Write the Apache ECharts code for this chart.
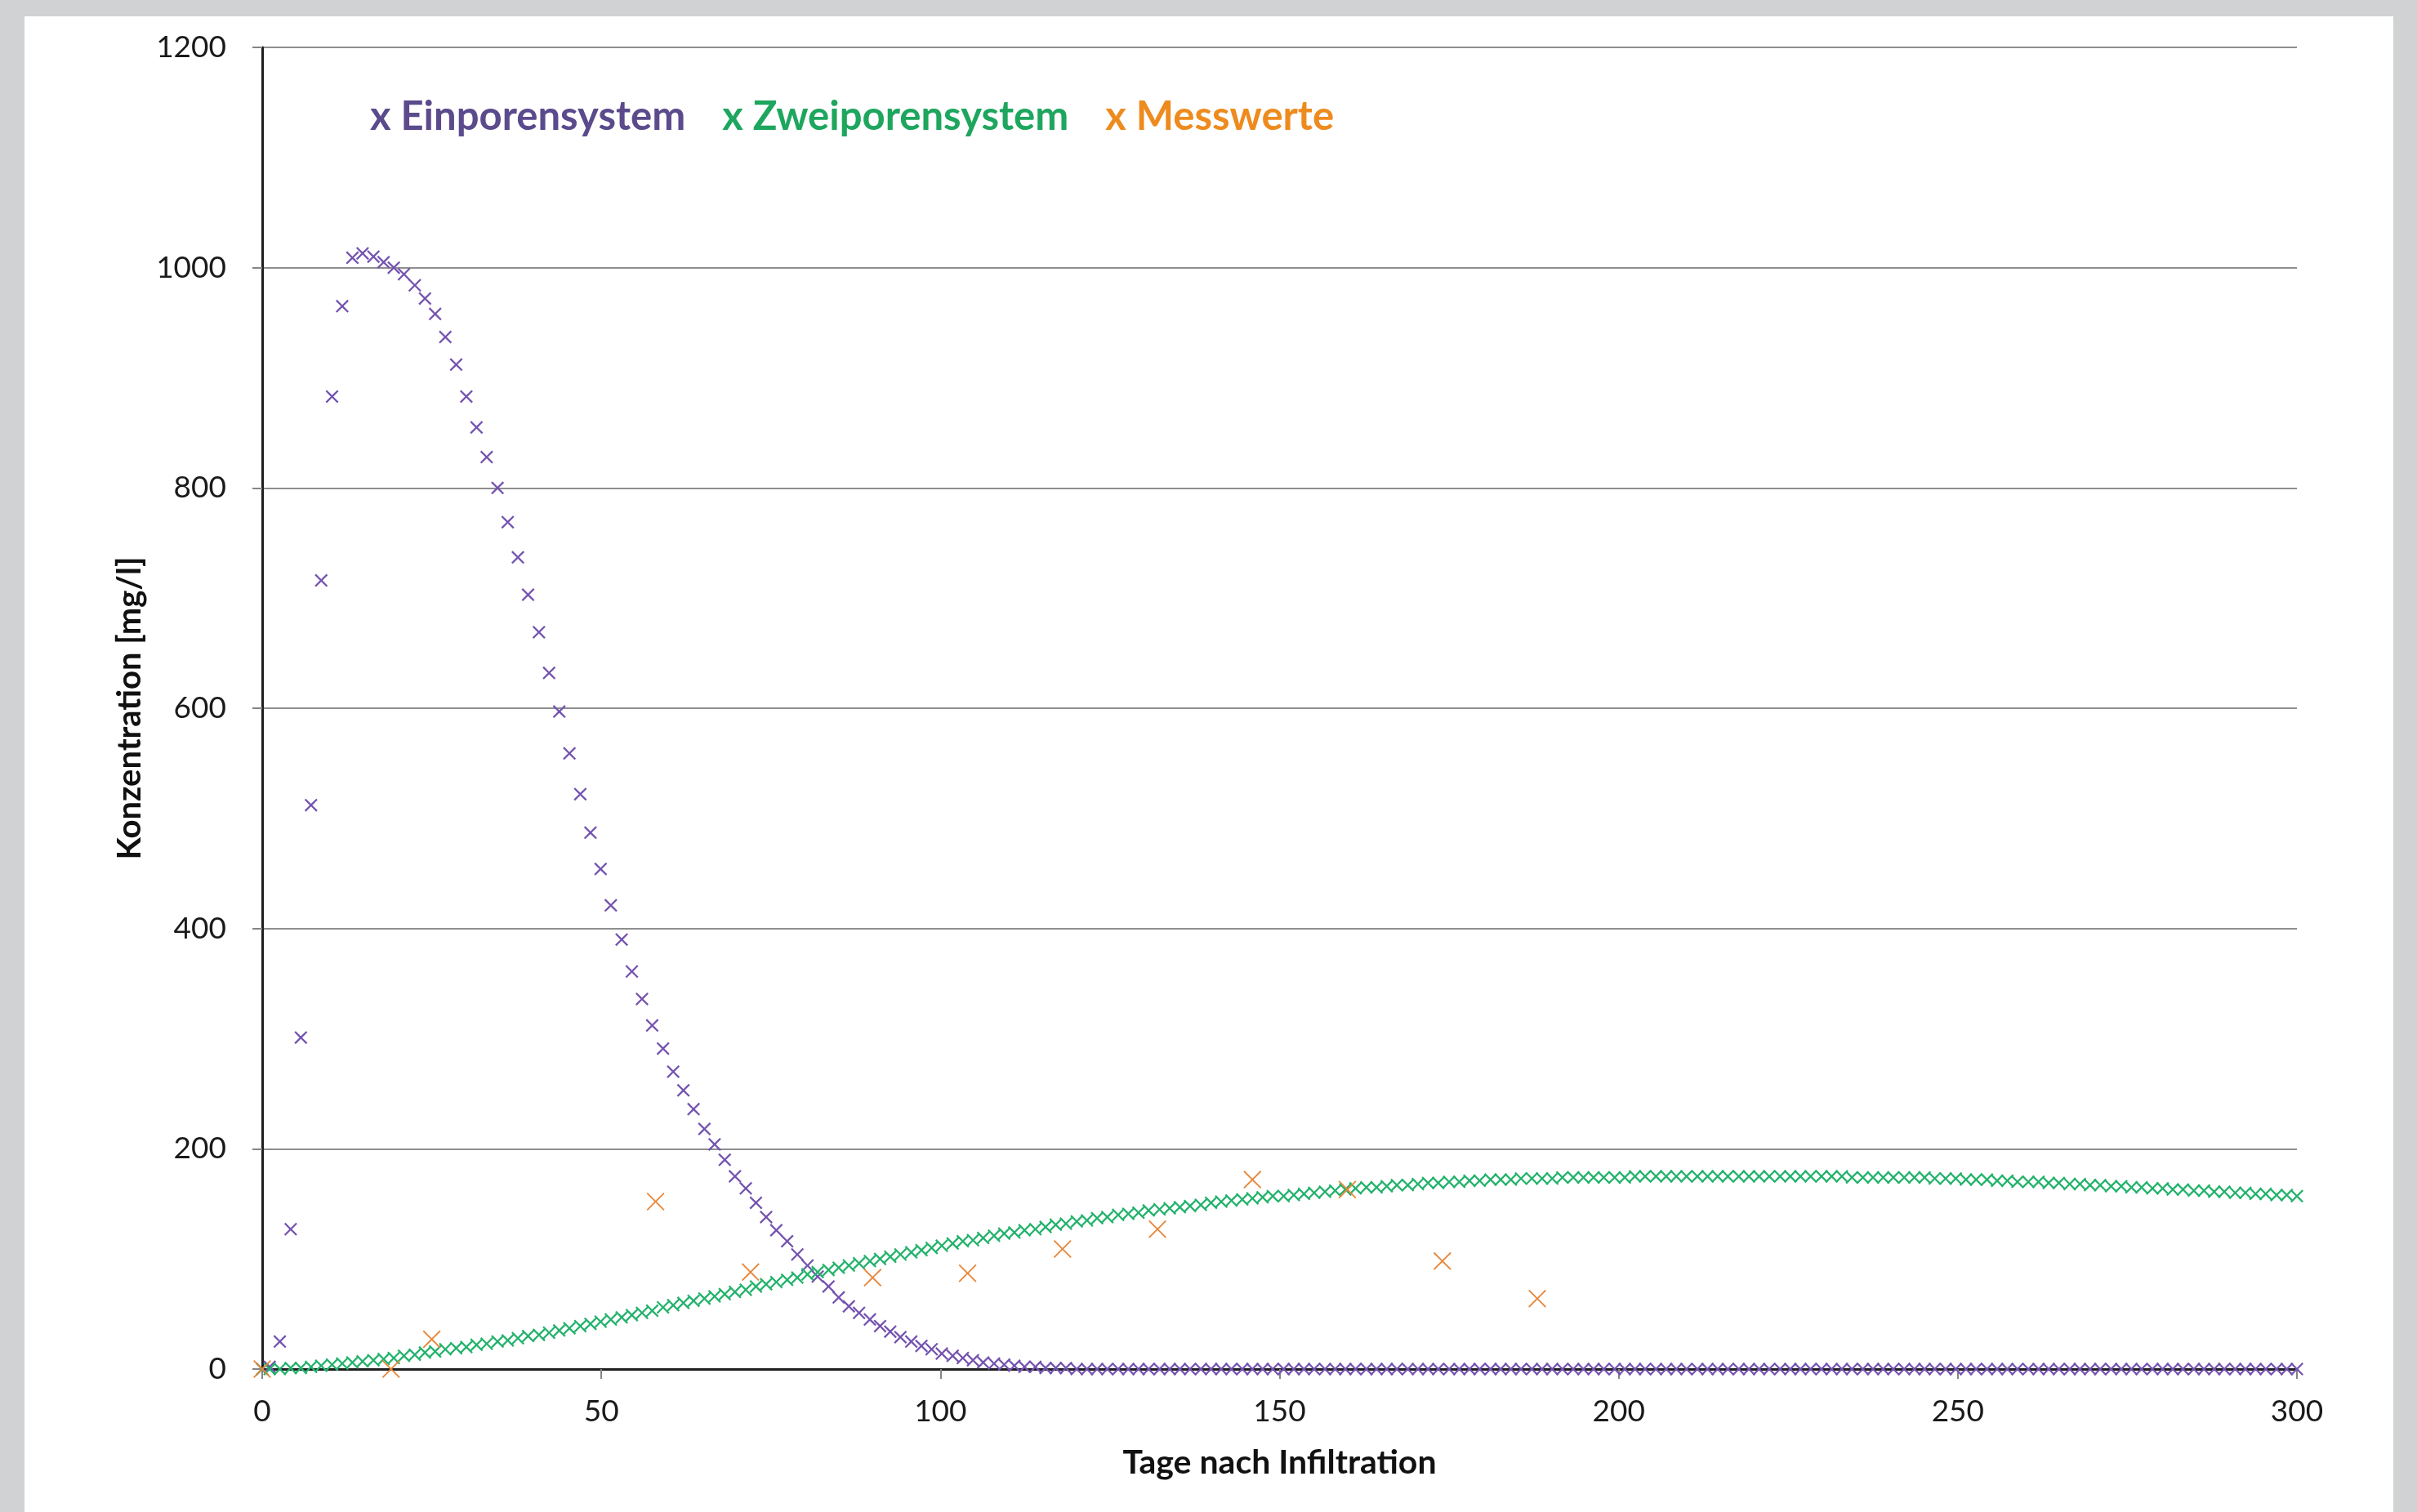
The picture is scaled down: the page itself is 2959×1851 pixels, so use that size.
<!DOCTYPE html>
<html>
<head>
<meta charset="utf-8">
<script src="https://cdn.jsdelivr.net/npm/echarts/dist/echarts.min.js"></script>
<style>
html,body{margin:0;padding:0;background:#d1d2d4;width:2959px;height:1851px;overflow:hidden;}
#chart{position:absolute;left:30px;top:20px;width:2900px;height:1831px;background:#ffffff;}
</style>
</head>
<body>
<div id="chart"></div>
<script>
// ---- data ----
const days = [0,
  1.1, 2.6, 4.2, 5.7, 7.2, 8.7, 10.3, 11.8, 13.3, 14.8,
  16.4, 17.9, 19.4, 20.9, 22.5, 24.0, 25.5, 27.0, 28.6, 30.1,
  31.6, 33.1, 34.7, 36.2, 37.7, 39.2, 40.8, 42.3, 43.8, 45.3,
  46.9, 48.4, 49.9, 51.4, 53.0, 54.5, 56.0, 57.5, 59.1, 60.6,
  62.1, 63.6, 65.2, 66.7, 68.2, 69.7, 71.3, 72.8, 74.3, 75.8,
  77.4, 78.9, 80.4, 81.9, 83.5, 85.0, 86.5, 88.0, 89.6, 91.1,
  92.6, 94.1, 95.7, 97.2, 98.7, 100.2, 101.8, 103.3, 104.8, 106.3,
  107.9, 109.4, 110.9, 112.4, 114.0, 115.5, 117.0, 118.5, 120.1, 121.6,
  123.1, 124.6, 126.2, 127.7, 129.2, 130.7, 132.3, 133.8, 135.3, 136.8,
  138.4, 139.9, 141.4, 142.9, 144.5, 146.0, 147.5, 149.0, 150.6, 152.1,
  153.6, 155.1, 156.7, 158.2, 159.7, 161.2, 162.8, 164.3, 165.8, 167.3,
  168.9, 170.4, 171.9, 173.4, 175.0, 176.5, 178.0, 179.5, 181.1, 182.6,
  184.1, 185.6, 187.2, 188.7, 190.2, 191.7, 193.3, 194.8, 196.3, 197.8,
  199.4, 200.9, 202.4, 203.9, 205.5, 207.0, 208.5, 210.0, 211.6, 213.1,
  214.6, 216.1, 217.7, 219.2, 220.7, 222.2, 223.8, 225.3, 226.8, 228.3,
  229.9, 231.4, 232.9, 234.4, 236.0, 237.5, 239.0, 240.5, 242.1, 243.6,
  245.1, 246.6, 248.2, 249.7, 251.2, 252.7, 254.3, 255.8, 257.3, 258.8,
  260.4, 261.9, 263.4, 264.9, 266.5, 268.0, 269.5, 271.0, 272.6, 274.1,
  275.6, 277.1, 278.7, 280.2, 281.7, 283.2, 284.8, 286.3, 287.8, 289.3,
  290.9, 292.4, 293.9, 295.4, 297.0, 298.5, 300.0];

const einporensystem = [0,
  2, 25, 127, 301, 512, 716, 883, 965, 1009, 1013,
  1010, 1005, 1000, 994, 984, 972, 958, 937, 912, 883,
  855, 828, 800, 769, 737, 703, 669, 632, 597, 559,
  522, 487, 454, 421, 390, 361, 336, 312, 291, 270,
  253, 236, 218, 204, 190, 175, 164, 151, 138, 126,
  116, 104, 94, 84, 75, 65, 57, 51, 45, 39,
  34, 29, 25, 21, 18, 14, 12, 10, 8, 6,
  5, 4, 3, 2, 2, 1, 1, 1, 0, 0,
  0, 0, 0, 0, 0, 0, 0, 0, 0, 0,
  0, 0, 0, 0, 0, 0, 0, 0, 0, 0,
  0, 0, 0, 0, 0, 0, 0, 0, 0, 0,
  0, 0, 0, 0, 0, 0, 0, 0, 0, 0,
  0, 0, 0, 0, 0, 0, 0, 0, 0, 0,
  0, 0, 0, 0, 0, 0, 0, 0, 0, 0,
  0, 0, 0, 0, 0, 0, 0, 0, 0, 0,
  0, 0, 0, 0, 0, 0, 0, 0, 0, 0,
  0, 0, 0, 0, 0, 0, 0, 0, 0, 0,
  0, 0, 0, 0, 0, 0, 0, 0, 0, 0,
  0, 0, 0, 0, 0, 0, 0, 0, 0, 0,
  0, 0, 0, 0, 0, 0, 0];

const zweiporensystem = [0,
  0, 0, 1, 1, 2, 3, 4, 5, 6, 7,
  8, 9, 10, 12, 13, 15, 16, 18, 19, 20,
  22, 23, 25, 26, 28, 30, 31, 33, 35, 37,
  39, 41, 43, 45, 47, 49, 51, 53, 56, 58,
  60, 62, 64, 66, 68, 70, 72, 75, 77, 79,
  81, 83, 86, 88, 90, 92, 94, 96, 98, 100,
  102, 104, 106, 108, 110, 112, 114, 116, 117, 119,
  121, 123, 124, 126, 127, 129, 131, 132, 134, 135,
  137, 138, 140, 141, 142, 144, 145, 146, 147, 148,
  149, 151, 152, 153, 154, 155, 156, 157, 157, 158,
  159, 160, 161, 162, 163, 164, 165, 165, 166, 167,
  167, 168, 169, 169, 170, 170, 171, 171, 172, 172,
  172, 173, 173, 173, 173, 174, 174, 174, 174, 174,
  174, 174, 175, 175, 175, 175, 175, 175, 175, 175,
  175, 175, 175, 175, 175, 175, 175, 175, 175, 175,
  175, 175, 175, 174, 174, 174, 174, 174, 174, 174,
  174, 173, 173, 173, 172, 172, 172, 171, 171, 170,
  170, 170, 169, 169, 168, 168, 167, 167, 166, 166,
  165, 165, 164, 164, 163, 163, 162, 162, 161, 161,
  160, 160, 159, 159, 158, 158, 157];

const messTage  = [0, 19, 25, 58, 72, 90, 104, 118, 132, 146, 160, 174, 188];
const messWerte = [0, 0, 27, 152, 88, 83, 87, 109, 127, 172, 163, 98, 64];

const xTicks = [0, 50, 100, 150, 200, 250, 300];
const yTicks = [0, 200, 400, 600, 800, 1000, 1200];

// ---- styling ----
const FONT = 'Lato, "Open Sans", "DejaVu Sans", sans-serif';
const X_THICK = 'path://M0,1 L1,0 L5,4 L9,0 L10,1 L6,5 L10,9 L9,10 L5,6 L1,10 L0,9 L4,5 Z';
const X_THIN  = 'path://M0,0.6 L0.6,0 L5,4.4 L9.4,0 L10,0.6 L5.6,5 L10,9.4 L9.4,10 L5,5.6 L0.6,10 L0,9.4 L4.4,5 Z';

const pairs = (xs, ys) => xs.map((x, i) => [x, ys[i]]);

const chart = echarts.init(document.getElementById('chart'), null, {renderer: 'canvas'});
chart.setOption({
  animation: false,
  backgroundColor: '#ffffff',
  textStyle: {fontFamily: FONT},
  grid: {left: 291, top: 38, width: 2491, height: 1618, containLabel: false},
  legend: {
    left: 418, top: 96, padding: 0, itemGap: 40,
    icon: 'none', itemWidth: 0, itemHeight: 0,
    selectedMode: false,
    formatter: n => 'x ' + n,
    textStyle: {fontFamily: FONT, fontSize: 49, fontWeight: 'bold', lineHeight: 54},
    data: [
      {name: 'Einporensystem', textStyle: {color: '#5b4a8c'}},
      {name: 'Zweiporensystem', textStyle: {color: '#1ea65e'}},
      {name: 'Messwerte', textStyle: {color: '#ee8b1e'}}
    ]
  },
  xAxis: [{
    type: 'value', min: xTicks[0], max: xTicks[xTicks.length - 1], interval: 50,
    position: 'bottom',
    name: 'Tage nach Infiltration', nameLocation: 'middle', nameGap: 94,
    nameTextStyle: {fontFamily: FONT, fontSize: 41, fontWeight: 'bold', color: '#111'},
    axisLine: {show: true, lineStyle: {color: '#858585', width: 2}},
    axisTick: {show: true, length: 12, lineStyle: {color: '#858585', width: 2}},
    axisLabel: {fontFamily: FONT, fontSize: 37, color: '#1a1a1a', margin: 34,
      formatter: v => String(v)},
    splitLine: {show: false}
  }, {
    type: 'value', min: 0, max: 300, position: 'top',
    axisLine: {show: true, lineStyle: {color: '#1e1e1e', width: 3}},
    axisTick: {show: false}, axisLabel: {show: false}, splitLine: {show: false}
  }],
  yAxis: [{
    type: 'value', min: yTicks[0], max: yTicks[yTicks.length - 1], interval: 200,
    position: 'left',
    name: 'Konzentration [mg/l]', nameLocation: 'middle', nameGap: 142, nameRotate: 90,
    nameTextStyle: {fontFamily: FONT, fontSize: 40, fontWeight: 'bold', color: '#111'},
    axisLine: {show: true, lineStyle: {color: '#858585', width: 2}},
    axisTick: {show: true, length: 12, lineStyle: {color: '#858585', width: 2}},
    axisLabel: {fontFamily: FONT, fontSize: 37, color: '#1a1a1a', margin: 44,
      formatter: v => String(v)},
    splitLine: {show: true, lineStyle: {color: '#8e8e8e', width: 2}}
  }, {
    type: 'value', min: 0, max: 1200, position: 'right',
    axisLine: {show: true, lineStyle: {color: '#1e1e1e', width: 3}},
    axisTick: {show: false}, axisLabel: {show: false}, splitLine: {show: false}
  }],
  series: [
    {
      name: 'Einporensystem', type: 'scatter', xAxisIndex: 0, yAxisIndex: 0,
      data: pairs(days, einporensystem),
      symbol: X_THICK, symbolSize: 16,
      itemStyle: {color: '#7452b0', opacity: 1}, z: 2
    },
    {
      name: 'Zweiporensystem', type: 'scatter', xAxisIndex: 0, yAxisIndex: 0,
      data: pairs(days, zweiporensystem),
      symbol: X_THICK, symbolSize: 16,
      itemStyle: {color: '#22b26b', opacity: 1}, z: 3
    },
    {
      name: 'Messwerte', type: 'scatter', xAxisIndex: 0, yAxisIndex: 0,
      data: pairs(messTage, messWerte),
      symbol: X_THIN, symbolSize: 22,
      itemStyle: {color: '#e8873a', opacity: 1}, z: 4
    }
  ]
});
</script>
</body>
</html>
